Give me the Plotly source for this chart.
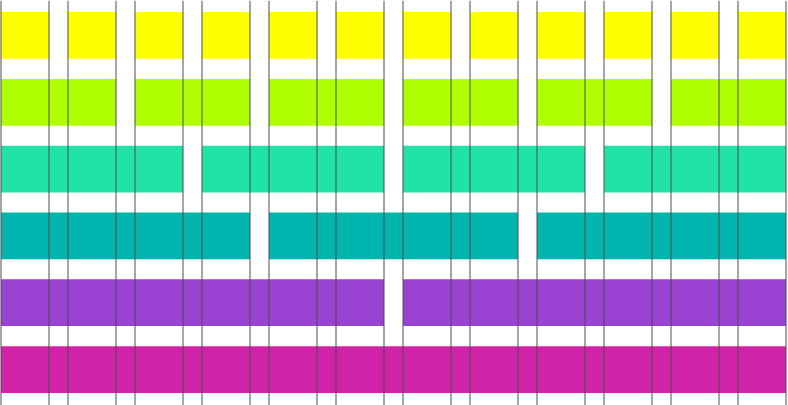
import plotly.graph_objects as go

# Data
n_units = 12
unit_period = 1.0
unit_width = 48 / 67          # fraction of each period covered by a unit
group_sizes = [1, 2, 3, 4, 6, 12]   # units merged per bar, one row per size
row_colors = ["#FFFF00", "#AEFF00", "#21E3A8", "#00B5AD", "#9A42D2", "#D023A8"]
line_color = "#4d4d4d"

unit_starts = [k * unit_period for k in range(n_units)]
unit_ends = [s + unit_width for s in unit_starts]

fig = go.Figure()
for row, (size, color) in enumerate(zip(group_sizes, row_colors)):
    bases, lengths, ys = [], [], []
    for g in range(n_units // size):
        s = unit_starts[g * size]
        e = unit_ends[(g + 1) * size - 1]
        bases.append(s)
        lengths.append(e - s)
        ys.append(row)
    fig.add_trace(go.Bar(
        x=lengths, base=bases, y=ys, orientation="h",
        marker=dict(color=color, line=dict(width=0)),
        width=0.70, showlegend=False, hoverinfo="skip",
    ))

edges = sorted(unit_starts + unit_ends)
for xe in edges:
    fig.add_shape(type="line", x0=xe, x1=xe, xref="x", y0=0, y1=0.998, yref="paper",
                  line=dict(color=line_color, width=1), layer="above")

px_per_unit = 67
fig.update_layout(
    width=788, height=405,
    margin=dict(l=0, r=0, t=0, b=0),
    paper_bgcolor="white", plot_bgcolor="white",
    barmode="overlay",
    xaxis=dict(range=[-1 / px_per_unit, 787 / px_per_unit], visible=False),
    yaxis=dict(range=[5.531, -0.531], visible=False),
)
fig.write_html("out.html")
